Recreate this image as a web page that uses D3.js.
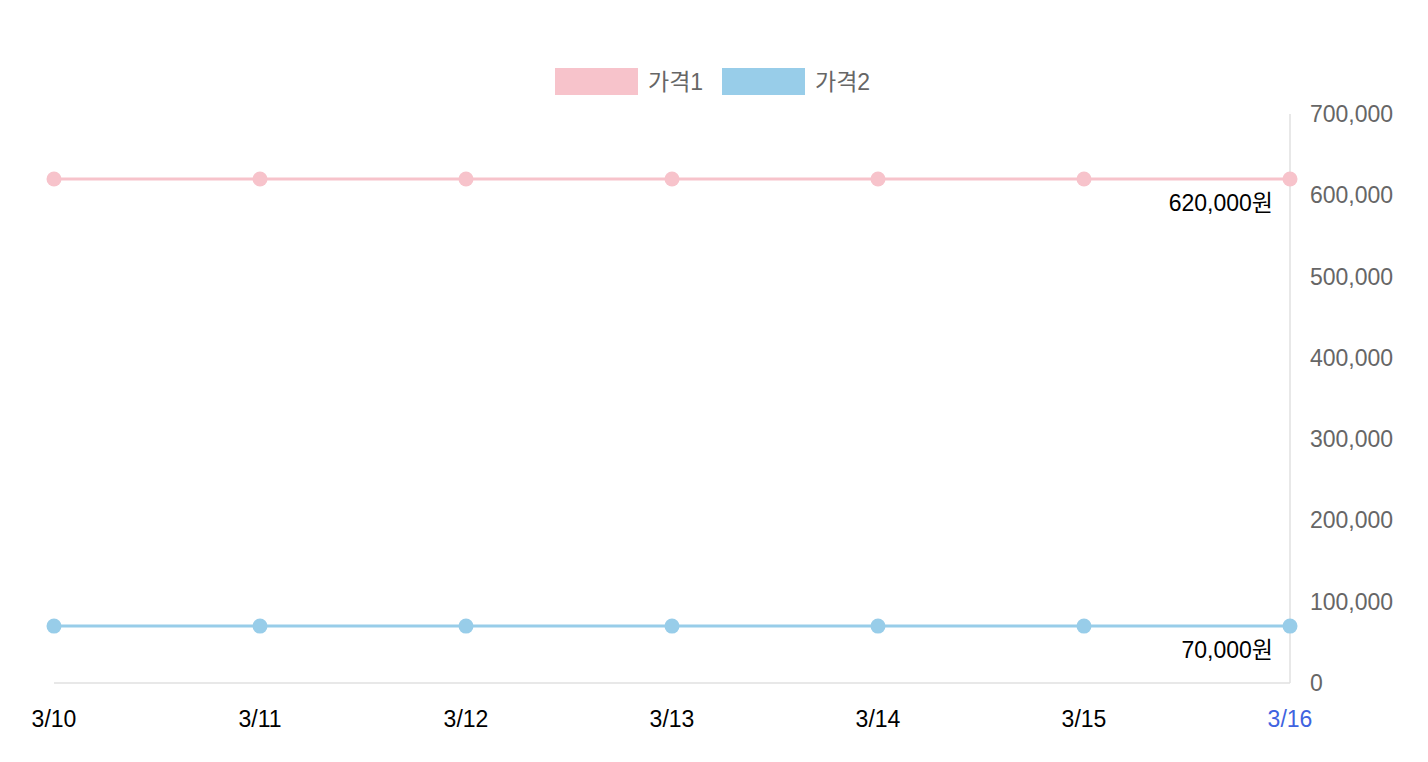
<!DOCTYPE html>
<html><head><meta charset="utf-8">
<script src="https://cdn.jsdelivr.net/npm/d3@7"></script>
<style>
html,body{margin:0;padding:0;background:#fff;}
text{font-family:"Liberation Sans","Noto Sans CJK KR",sans-serif;}
</style></head>
<body><svg id="chart" width="1428" height="762"></svg>
<script>
const categories = ["3/10","3/11","3/12","3/13","3/14","3/15","3/16"];
const price1 = [620000,620000,620000,620000,620000,620000,620000];
const price2 = [70000,70000,70000,70000,70000,70000,70000];
const seriesNames = ["가격1","가격2"];
const seriesColors = ["#f7c3cb","#98cde9"];
const yTicks = [0,100000,200000,300000,400000,500000,600000,700000];

const svg = d3.select("#chart");
const x = d3.scalePoint().domain(categories).range([54,1290]);
const y = d3.scaleLinear().domain([0,700000]).range([683,114]);
const fmt = d3.format(",");
const FS = 23;

// axes lines
svg.append("line").attr("x1",54).attr("x2",1290).attr("y1",y(0)).attr("y2",y(0)).attr("stroke","#e0e0e0").attr("stroke-width",1.5);
svg.append("line").attr("x1",1290).attr("x2",1290).attr("y1",y(700000)).attr("y2",y(0)).attr("stroke","#e0e0e0").attr("stroke-width",1.5);

// y tick labels
svg.append("g").selectAll("text").data(yTicks).join("text")
  .attr("x",1310).attr("y",d=>y(d)).attr("dy","0.35em")
  .attr("fill","#666").attr("font-size",FS).text(d=>fmt(d));

// x labels
svg.append("g").selectAll("text").data(categories).join("text")
  .attr("x",d=>x(d)).attr("y",727).attr("text-anchor","middle")
  .attr("fill",(d,i)=>i===categories.length-1?"#3f63e0":"#000").attr("font-size",FS).text(d=>d);

const series = [price1, price2];
const line = d3.line().x((d,i)=>x(categories[i])).y(d=>y(d));
series.forEach((s,k)=>{
  svg.append("path").datum(s).attr("d",line).attr("fill","none").attr("stroke",seriesColors[k]).attr("stroke-width",3);
  svg.append("g").selectAll("circle").data(s).join("circle")
    .attr("cx",(d,i)=>x(categories[i])).attr("cy",d=>y(d)).attr("r",7.5).attr("fill",seriesColors[k]);
  const last = s[s.length-1];
  svg.append("text").attr("x",1273).attr("y",y(last)+32).attr("text-anchor","end")
    .attr("fill","#000").attr("font-size",FS).text(fmt(last)+"원");
});

// legend
const legX = [555,722];
seriesNames.forEach((n,k)=>{
  svg.append("rect").attr("x",legX[k]).attr("y",68).attr("width",83).attr("height",27).attr("fill",seriesColors[k]);
  svg.append("text").attr("x",legX[k]+93).attr("y",81.5).attr("dy","0.35em").attr("fill","#666").attr("font-size",FS).text(n);
});
</script></body></html>
